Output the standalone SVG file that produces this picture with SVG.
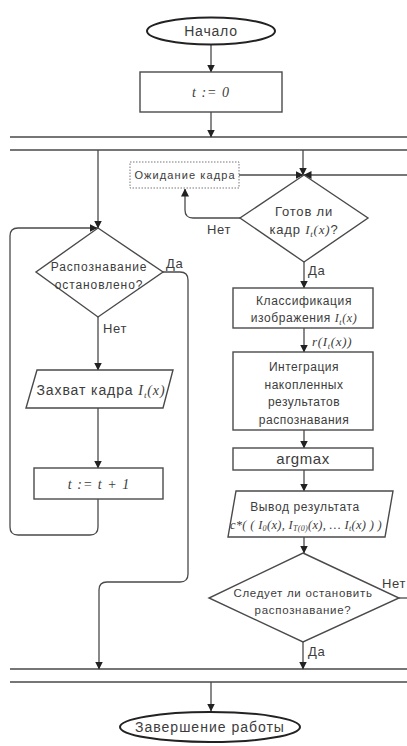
<svg xmlns="http://www.w3.org/2000/svg" width="407" height="746" viewBox="0 0 407 746">
<defs>
<style>
.ln{fill:none;stroke:#4a4a4a;stroke-width:1.3}
.bx{fill:#fff;stroke:#4a4a4a;stroke-width:1.4}
.t{font-family:"Liberation Sans",Arial,sans-serif;fill:#3c3c3c;text-anchor:middle}
.lb{font-family:"Liberation Sans",Arial,sans-serif;fill:#3c3c3c;font-size:13px;letter-spacing:0.7px}
.v{font-family:"Liberation Serif","Times New Roman",serif;font-style:italic}
</style>
<marker id="ah" markerWidth="8" markerHeight="8" refX="7.5" refY="4" orient="auto" markerUnits="userSpaceOnUse"><path d="M0,0 L8,4 L0,8 z" fill="#222"/></marker>
</defs>
<rect width="407" height="746" fill="#fff"/>
<g id="connectors">
<path class="ln" d="M10,137 H407 M10,150 H407 M10,669 H407 M10,682 H407"/>
<path class="ln" marker-end="url(#ah)" d="M211,45 V72"/>
<path class="ln" marker-end="url(#ah)" d="M211,112 V137"/>
<path class="ln" marker-end="url(#ah)" d="M98,150 V228"/>
<path class="ln" marker-end="url(#ah)" d="M303,150 V175"/>
<path class="ln" marker-end="url(#ah)" d="M239,175 H303"/>
<path class="ln" marker-end="url(#ah)" d="M407,175 H304"/>
<path class="ln" marker-end="url(#ah)" d="M240,218 H193 Q185,218 185,210 V189"/>
<path class="ln" marker-end="url(#ah)" d="M304,262 V288"/>
<path class="ln" marker-end="url(#ah)" d="M304,328 V352"/>
<path class="ln" marker-end="url(#ah)" d="M304,430 V448"/>
<path class="ln" marker-end="url(#ah)" d="M304,470 V491"/>
<path class="ln" marker-end="url(#ah)" d="M304,537 V553"/>
<path class="ln" marker-end="url(#ah)" d="M303,642 V669"/>
<path class="ln" d="M399,598 H407"/>
<path class="ln" marker-end="url(#ah)" d="M98,317 V370"/>
<path class="ln" marker-end="url(#ah)" d="M98,408 V468"/>
<path class="ln" marker-end="url(#ah)" d="M98,499 V527 Q98,535 90,535 H18 Q10,535 10,527 V236 Q10,228 18,228 H97"/>
<path class="ln" marker-end="url(#ah)" d="M163,272 H180 Q188,272 188,280 V574 Q188,582 180,582 H107 Q99,582 99,590 V669"/>
<path class="ln" marker-end="url(#ah)" d="M211,682 V711"/>
<text class="lb" x="166" y="268">Да</text>
<text class="lb" x="103" y="333">Нет</text>
<text class="lb" x="207" y="234">Нет</text>
<text class="lb" x="308" y="275">Да</text>
<text class="lb v" x="312" y="346" font-size="12">r(I<tspan dy="3" font-size="8">t</tspan><tspan dy="-3">(x))</tspan></text>
<text class="lb" x="308" y="656">Да</text>
<text class="lb" x="382" y="588">Нет</text>
</g>
<g id="start">
<ellipse cx="211" cy="31" rx="64" ry="13.5" fill="#fff" stroke="#222" stroke-width="2"/>
<text class="t" x="211" y="36" font-size="14" letter-spacing="0.8">Начало</text>
</g>
<g id="init">
<rect class="bx" x="140" y="72" width="142" height="40"/>
<text class="t v" x="211" y="97" font-size="14" letter-spacing="1">t := 0</text>
</g>
<g id="stopped">
<path class="bx" d="M98,228 L163,272 L98,317 L36,272 Z"/>
<text class="t" x="99" y="271" font-size="12" letter-spacing="0.9">Распознавание</text>
<text class="t" x="99" y="289" font-size="12" letter-spacing="0.9">остановлено?</text>
</g>
<g id="capture">
<path class="bx" d="M37,370 L173,370 L163,408 L26,408 Z"/>
<text class="t" x="101" y="395" font-size="14" letter-spacing="0.9">Захват кадра <tspan class="v">I<tspan dy="3" font-size="9">t</tspan><tspan dy="-3">(x)</tspan></tspan></text>
</g>
<g id="increment">
<rect class="bx" x="34" y="468" width="129" height="31"/>
<text class="t v" x="99" y="489" font-size="14" letter-spacing="1">t := t + 1</text>
</g>
<g id="wait">
<rect x="130" y="162" width="109" height="26" fill="#fff" stroke="#777" stroke-width="1" stroke-dasharray="1.5 1.5"/>
<text class="t" x="185" y="179" font-size="11" letter-spacing="1.1">Ожидание кадра</text>
</g>
<g id="ready">
<path class="bx" d="M304,175 L368,218 L304,262 L240,218 Z"/>
<text class="t" x="304" y="216" font-size="13" letter-spacing="0.8">Готов ли</text>
<text class="t" x="304" y="234" font-size="13" letter-spacing="0.8">кадр <tspan class="v">I<tspan dy="3" font-size="9">t</tspan><tspan dy="-3">(x)</tspan></tspan>?</text>
</g>
<g id="classify">
<rect class="bx" x="233" y="288" width="140" height="40"/>
<text class="t" x="304" y="305" font-size="12" letter-spacing="0.6">Классификация</text>
<text class="t" x="304" y="322" font-size="12" letter-spacing="0.6">изображения <tspan class="v">I<tspan dy="3" font-size="8">t</tspan><tspan dy="-3">(x)</tspan></tspan></text>
</g>
<g id="integrate">
<rect class="bx" x="233" y="352" width="140" height="78"/>
<text class="t" x="304" y="371" font-size="12" letter-spacing="0.5">Интеграция</text>
<text class="t" x="304" y="389" font-size="12" letter-spacing="0.5">накопленных</text>
<text class="t" x="304" y="406" font-size="12" letter-spacing="0.5">результатов</text>
<text class="t" x="304" y="424" font-size="12" letter-spacing="0.5">распознавания</text>
</g>
<g id="argmax">
<rect class="bx" x="233" y="448" width="140" height="22"/>
<text class="t" x="303" y="464" font-size="15" letter-spacing="0.6">argmax</text>
</g>
<g id="output">
<path class="bx" d="M236,491 L393,491 L385,537 L228,537 Z"/>
<text class="t" x="305" y="511" font-size="12" letter-spacing="0.6">Вывод результата</text>
<text class="t v" x="306" y="529" font-size="12.5" letter-spacing="0.3">c*( ( I<tspan dy="2" font-size="8">0</tspan><tspan dy="-2">(x), I</tspan><tspan dy="2" font-size="8">T(0)</tspan><tspan dy="-2">(x), … I</tspan><tspan dy="2" font-size="8">t</tspan><tspan dy="-2">(x) ) )</tspan></text>
</g>
<g id="shouldstop">
<path class="bx" d="M303,553 L399,598 L303,642 L209,598 Z"/>
<text class="t" x="303" y="597" font-size="11.5" letter-spacing="0.7">Следует ли остановить</text>
<text class="t" x="303" y="614" font-size="11.5" letter-spacing="0.7">распознавание?</text>
</g>
<g id="end">
<ellipse cx="210" cy="727" rx="90" ry="15" fill="#fff" stroke="#222" stroke-width="2"/>
<text class="t" x="210" y="732" font-size="14" letter-spacing="1">Завершение работы</text>
</g>
</svg>
